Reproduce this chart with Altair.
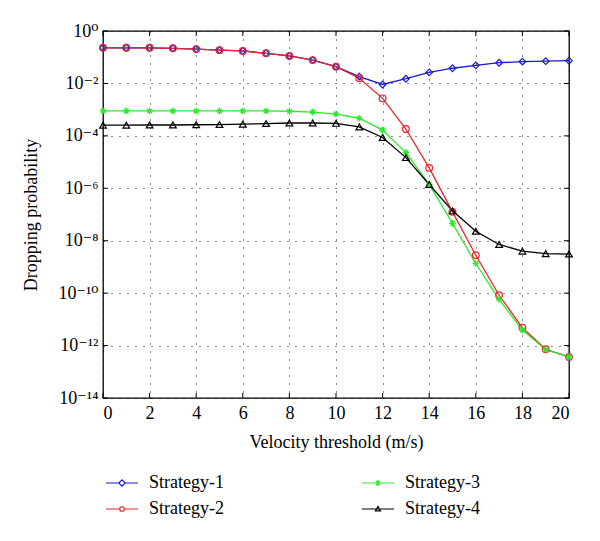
import altair as alt
import pandas as pd

velocity = list(range(21))
strategy_1 = [0.229, 0.229, 0.229, 0.219, 0.204, 0.186, 0.174, 0.141, 0.112, 0.0776, 0.0437,
              0.0182, 0.00912, 0.0151, 0.0263, 0.038, 0.049, 0.0617, 0.0676, 0.0708, 0.0741]
strategy_2 = [0.229, 0.229, 0.229, 0.219, 0.204, 0.186, 0.174, 0.141, 0.112, 0.0776, 0.0437,
              0.0158, 2.69e-3, 1.82e-4, 6.0e-6, 1.26e-7, 2.8e-9, 8.3e-11, 4.8e-12, 7.2e-13, 3.7e-13]
strategy_3 = [8.9e-4, 8.9e-4, 8.9e-4, 8.9e-4, 8.9e-4, 8.9e-4, 8.9e-4, 8.9e-4, 8.7e-4, 8.1e-4, 6.8e-4,
              4.7e-4, 1.66e-4, 2.3e-5, 1.4e-6, 4.6e-8, 1.35e-9, 5.8e-11, 3.9e-12, 7.0e-13, 3.7e-13]
strategy_4 = [2.55e-4, 2.55e-4, 2.6e-4, 2.6e-4, 2.65e-4, 2.7e-4, 2.8e-4, 2.95e-4, 3.1e-4, 3.1e-4, 3.0e-4,
              2.2e-4, 8.7e-5, 1.48e-5, 1.4e-6, 1.38e-7, 2.3e-8, 7.2e-9, 4.0e-9, 3.2e-9, 3.1e-9]

series_names = ["Strategy-1", "Strategy-2", "Strategy-3", "Strategy-4"]
series_values = [strategy_1, strategy_2, strategy_3, strategy_4]
colors = {"Strategy-1": "#1a1ad0", "Strategy-2": "#e8262a", "Strategy-3": "#2ee82e", "Strategy-4": "#000000"}
asterisk = "M-1,0H1M0,-1V1M-0.7,-0.7L0.7,0.7M-0.7,0.7L0.7,-0.7"
shapes = {"Strategy-1": "diamond", "Strategy-2": "circle", "Strategy-3": asterisk, "Strategy-4": "triangle-up"}
# legend symbols: a short line with the marker in the middle (unit square scaled to 32 px)
legend_shapes = {
    "Strategy-1": "M-1,0H-0.2M0.2,0H1M0,-0.2L0.2,0L0,0.2L-0.2,0Z",
    "Strategy-2": "M-1,0H-0.14M0.14,0H1M-0.14,0A0.14,0.14,0,1,0,0.14,0A0.14,0.14,0,1,0,-0.14,0Z",
    "Strategy-3": "M-1,0H1M0,-0.18V0.18M-0.13,-0.13L0.13,0.13M-0.13,0.13L0.13,-0.13",
    "Strategy-4": "M-1,0H1M0,-0.16L0.16,0.12L-0.16,0.12Z",
}

x_ticks = list(range(0, 21, 2))
y_exps = [0, -2, -4, -6, -8, -10, -12, -14]
sup = {"-": "\u207b", "0": "\u2070", "1": "\u00b9", "2": "\u00b2", "3": "\u00b3", "4": "\u2074",
       "5": "\u2075", "6": "\u2076", "7": "\u2077", "8": "\u2078", "9": "\u2079"}
y_labels = ["10" + "".join(sup[c] for c in str(e)) for e in y_exps]
y_ticks = [10.0 ** e for e in y_exps]

rows = []
for name, vals in zip(series_names, series_values):
    for xv, yv in zip(velocity, vals):
        rows.append({"x": xv, "y": yv, "s": name})
df = pd.DataFrame(rows)

label_expr = ""
for e, lab in zip(y_exps, y_labels):
    label_expr += f"round(log(datum.value)/LN10) == {e} ? '{lab}' : "
label_expr += "''"

FONT = "Liberation Serif, DejaVu Serif, serif"
W, H = 466, 367

xscale = alt.Scale(domain=[0, 20], nice=False)
yscale = alt.Scale(type="log", domain=[1e-14, 1], nice=False)

xenc = alt.X("x:Q", scale=xscale,
             axis=alt.Axis(values=x_ticks, title="Velocity threshold (m/s)", ticks=False, domain=False,
                           grid=True, labelPadding=6, titlePadding=11))
yenc = alt.Y("y:Q", scale=yscale,
             axis=alt.Axis(values=y_ticks, labelExpr=label_expr, title="Dropping probability",
                           ticks=False, domain=False, grid=True, labelPadding=5, titlePadding=17))

def color_enc():
    return alt.Color("s:N", scale=alt.Scale(domain=series_names, range=[colors[s] for s in series_names]),
                     legend=None)

lines = alt.Chart(df).mark_line(strokeWidth=1.3).encode(
    x=xenc, y=yenc, color=color_enc(), detail="s:N", order=alt.Order("x:Q"))
points = alt.Chart(df).mark_point(filled=False, size=45, strokeWidth=1.2, opacity=1).encode(
    x="x:Q", y="y:Q", color=color_enc(),
    shape=alt.Shape("s:N", scale=alt.Scale(domain=series_names, range=[shapes[s] for s in series_names]),
                    legend=None))

legend_kw = dict(title=None, orient="none", legendX=2, legendY=435, columns=2,
                 columnPadding=135, rowPadding=-9, labelFont=FONT, labelFontSize=18, labelColor="black",
                 symbolSize=1024, symbolStrokeWidth=1.2, labelOffset=10,
                 symbolFillColor="transparent", symbolOpacity=1)
legend_layer = alt.Chart(df).mark_point(filled=False, opacity=0).encode(
    x="x:Q", y="y:Q",
    color=alt.Color("s:N", scale=alt.Scale(domain=series_names, range=[colors[s] for s in series_names]),
                    legend=alt.Legend(**legend_kw)),
    shape=alt.Shape("s:N", scale=alt.Scale(domain=series_names,
                                           range=[legend_shapes[s] for s in series_names]),
                    legend=alt.Legend(**legend_kw)))

xt = pd.DataFrame({"x": x_ticks})
yt = pd.DataFrame({"y": y_ticks})
tick_bottom = alt.Chart(xt).mark_rule(color="black", strokeWidth=1).encode(
    x="x:Q", y=alt.value(H), y2=alt.value(H - 5))
tick_top = alt.Chart(xt).mark_rule(color="black", strokeWidth=1).encode(
    x="x:Q", y=alt.value(0), y2=alt.value(5))
tick_left = alt.Chart(yt).mark_rule(color="black", strokeWidth=1).encode(
    y="y:Q", x=alt.value(0), x2=alt.value(5))
tick_right = alt.Chart(yt).mark_rule(color="black", strokeWidth=1).encode(
    y="y:Q", x=alt.value(W), x2=alt.value(W - 5))

chart = alt.layer(tick_bottom, tick_top, tick_left, tick_right, lines, points, legend_layer).resolve_scale(
    shape="independent", color="independent"
).properties(
    width=W, height=H,
    autosize=alt.AutoSizeParams(type="none"),
    padding={"left": 95, "top": 23, "right": 20, "bottom": 130},
).configure(
    font=FONT
).configure_view(
    stroke="black", strokeWidth=1.3
).configure_axis(
    labelFont=FONT, labelFontSize=18, labelColor="black",
    titleFont=FONT, titleFontSize=18, titleFontWeight="normal", titleColor="black",
    gridColor="black", gridDash=[1, 7], gridWidth=1, gridOpacity=0.9
)

chart.save("out.html", embed_options={"renderer": "svg", "actions": False})
